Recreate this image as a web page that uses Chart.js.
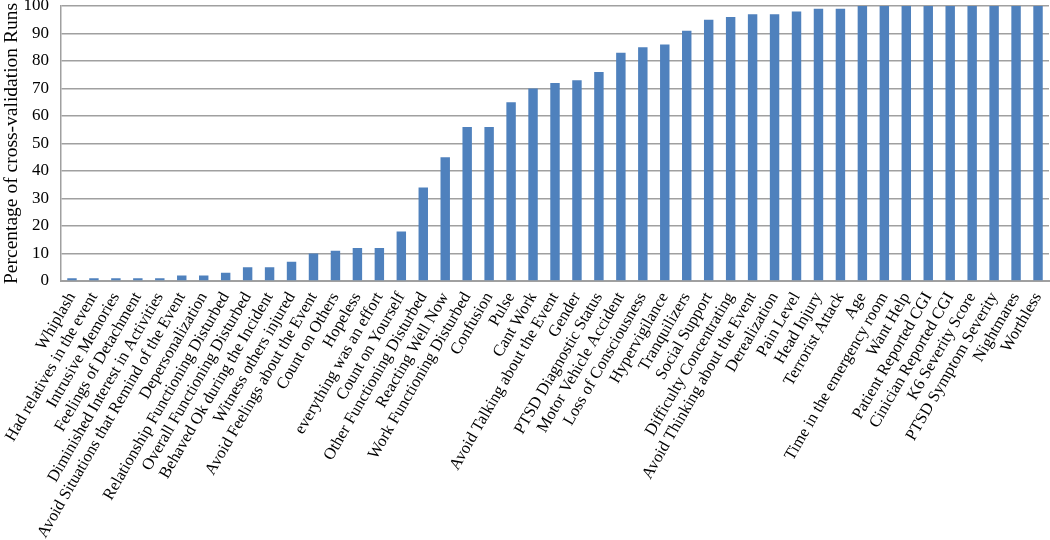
<!DOCTYPE html>
<html>
<head>
<meta charset="utf-8">
<script src="https://cdn.jsdelivr.net/npm/chart.js@4"></script>
<style>
html,body{margin:0;padding:0;background:#fff;}
#wrap{width:1050px;height:540px;}
</style>
</head>
<body>
<div id="wrap"><canvas id="c" width="1050" height="540"></canvas></div>
<script>
const categories = [
  "Whiplash","Had relatives in the event","Intrusive Memories","Feelings of Detachment",
  "Diminished Interest in Activities","Avoid Situations that Remind of the Event","Depersonalization",
  "Relationship Functioning Disturbed","Overall Functioning Disturbed","Behaved Ok during the Incident",
  "Witness others injured","Avoid Feelings about the Event","Count on Others","Hopeless",
  "everything was an effort","Count on Yourself","Other Functioning Disturbed","Reacting Well Now",
  "Work Functioning Disturbed","Confusion","Pulse","Cant Work","Avoid Talking about the Event",
  "Gender","PTSD Diagnostic Status","Motor Vehicle Accident","Loss of Consciousness",
  "Hypervigilance","Tranquilizers","Social Support","Difficulty Concentrating",
  "Avoid Thinking about the Event","Derealization","Pain Level","Head Injury","Terrorist Attack",
  "Age","Time in the emergency room","Want Help","Patient Reported CGI","Cinician Reported CGI",
  "K6 Severity Score","PTSD Symptom Severity","Nightmares","Worthless"
];
const percentages = [
  1,1,1,1,1,2,2,3,5,5,
  7,10,11,12,12,18,34,45,56,56,
  65,70,72,73,76,83,85,86,91,95,
  96,97,97,98,99,99,100,100,100,100,
  100,100,100,100,100
];
const yTicks = [0,10,20,30,40,50,60,70,80,90,100];
const yTitle = "Percentage of cross-validation Runs";

const FONT = "'Liberation Serif', 'Times New Roman', serif";

function zeroPad(s) {
  s.paddingTop = 0; s.paddingBottom = 0; s.paddingLeft = 0; s.paddingRight = 0;
}

new Chart(document.getElementById('c'), {
  type: 'bar',
  data: {
    labels: categories,
    datasets: [{
      data: percentages,
      backgroundColor: '#4f81bd',
      borderWidth: 0,
      categoryPercentage: 1.0,
      barPercentage: 0.43
    }]
  },
  options: {
    responsive: false,
    animation: false,
    devicePixelRatio: 1,
    layout: { padding: { top: 6, right: 1, left: 0, bottom: 0 } },
    plugins: { legend: { display: false }, tooltip: { enabled: false } },
    scales: {
      x: {
        grid: { display: false, drawTicks: false },
        border: { display: true, color: '#a0a0a0', width: 2 },
        ticks: {
          autoSkip: false,
          minRotation: 60,
          maxRotation: 60,
          color: '#000',
          padding: 8,
          font: { family: FONT, size: 16.5 }
        },
        afterFit: (s) => { s.height = 259; zeroPad(s); }
      },
      y: {
        min: 0,
        max: 100,
        afterBuildTicks: (s) => { s.ticks = yTicks.map(v => ({ value: v })); },
        grid: { color: '#a0a0a0', lineWidth: 1.5, drawTicks: false },
        border: { display: true, color: '#a0a0a0', width: 1.5 },
        ticks: {
          color: '#000',
          padding: 12,
          font: { family: FONT, size: 17 }
        },
        title: {
          display: true,
          text: yTitle,
          color: '#000',
          padding: { top: 0, bottom: 0 },
          font: { family: FONT, size: 19.5 }
        },
        afterFit: (s) => { s.width = 61; zeroPad(s); }
      }
    }
  }
});
</script>
</body>
</html>
